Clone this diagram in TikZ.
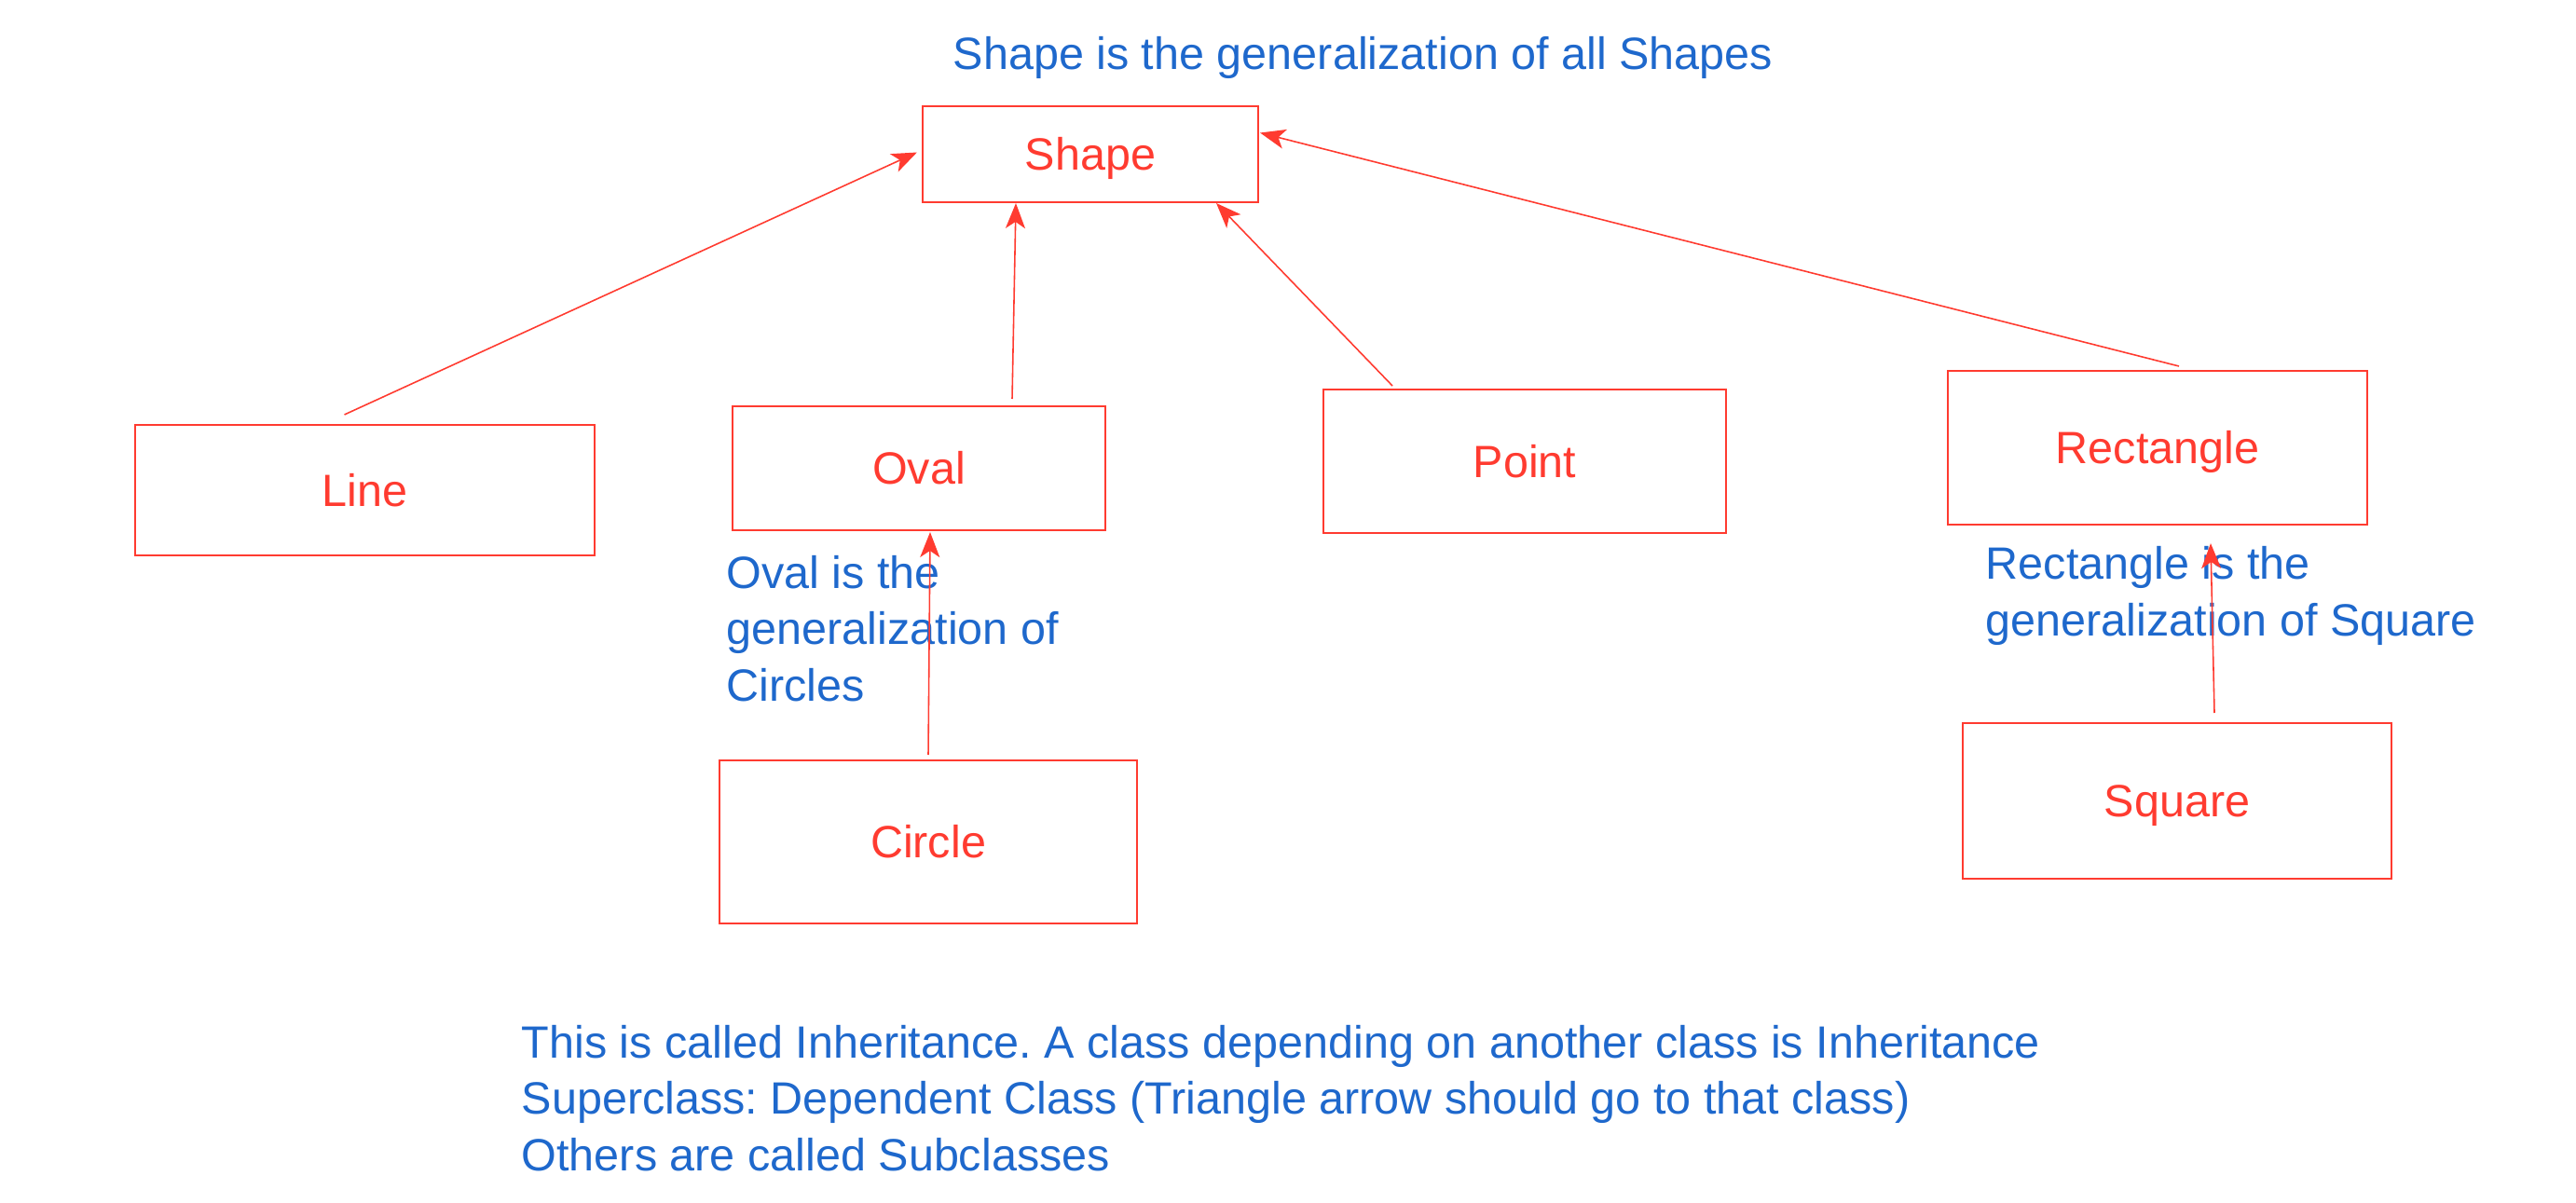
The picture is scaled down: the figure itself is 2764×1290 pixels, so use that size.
\documentclass[tikz,border=0pt]{standalone}
\usepackage{fontspec}
\setmainfont{Liberation Sans}
\usetikzlibrary{arrows.meta}
\frenchspacing

\definecolor{umlred}{RGB}{255,59,48}
\definecolor{noteblue}{RGB}{30,104,204}

\begin{document}
\begin{tikzpicture}[x=0.01cm, y=-0.01cm,
  cls/.style={draw=umlred, line width=0.55pt, text=umlred,
              font=\fontsize{13.8}{16.6}\selectfont,
              text height=0.34cm, text depth=0pt, inner sep=0pt},
  note/.style={text=noteblue, font=\fontsize{13.8}{17.1}\selectfont,
               anchor=base west, align=left, inner sep=0pt},
  inh/.style={draw=umlred, line width=0.45pt,
              -{Stealth[length=0.27cm, width=0.21cm, inset=0.07cm]}}]

\useasboundingbox (0,0) rectangle (2764,1290);

% The class boxes, one per class; centre and size in pixels of the sheet.
\foreach \name/\x/\y/\w/\h in {
    Shape/1170/165.5/3.60/1.03,
    Line/391.5/526/4.93/1.40,
    Oval/986/502.5/4.00/1.33,
    Point/1636/495/4.32/1.54,
    Rectangle/2315/480.5/4.50/1.65,
    Circle/996/903.5/4.48/1.75,
    Square/2336/859.5/4.60/1.67
  }
  \node[cls, minimum width=\w cm, minimum height=\h cm] (\name) at (\x,\y) {\name} ;

% Notes go before the arrows, which run over them.
% (base of a note with several lines is its last line)
\node[note] (topnote) at (1022,74) {Shape is the generalization of all Shapes} ;
\node[note] (ovalnote) at (779,752) {Oval is the\\generalization of\\Circles} ;
\node[note] (rectnote) at (2130,682) {Rectangle is the\\generalization of Square} ;
\node[note] (footnote) at (559,1256)
  {This is called Inheritance. A class depending on another class is Inheritance\\
   Superclass: Dependent Class (Triangle arrow should go to that class)\\
   Others are called Subclasses} ;

% Generalization arrows, sub class to super class.
\draw[inh] ([shift={(-22,-10)}]Line.north) -- ([shift={(-5,-2)}]Shape.west) ;
\draw[inh] ([shift={(100,-7)}]Oval.north) -- ([shift={(-80,0)}]Shape.south) ;
\draw[inh] ([shift={(-142,-3)}]Point.north) -- ([shift={(135,0)}]Shape.south) ;
\draw[inh] ([shift={(23,-4)}]Rectangle.north) -- ([shift={(1,-23)}]Shape.east) ;
\draw[inh] ([shift={(0,-5)}]Circle.north) -- ([shift={(12,1)}]Oval.south) ;
\draw[inh] ([shift={(40,-10)}]Square.north) -- ([shift={(57,19)}]Rectangle.south) ;
\end{tikzpicture}
\end{document}
